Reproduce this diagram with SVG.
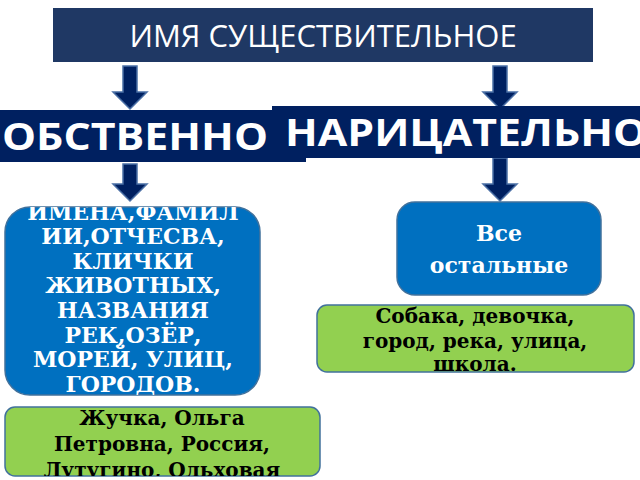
<svg xmlns="http://www.w3.org/2000/svg" width="640" height="480" viewBox="0 0 640 480">
<style>
.hd{fill:#002060}
.ar{fill:#002060;stroke:#4a6fa5;stroke-width:1.5}
.ht{font-family:"Open Sans","DejaVu Sans",sans-serif;font-weight:bold;fill:#fff;font-size:38px}
.bt{font-family:"DejaVu Serif",serif;font-weight:bold;fill:#fff;font-size:22px;text-anchor:middle}
.gt{font-family:"DejaVu Serif",serif;font-weight:bold;fill:#000;font-size:20px;text-anchor:middle}
</style>
<defs>
<clipPath id="c1"><rect x="0" y="110" width="306" height="52"/></clipPath>
<clipPath id="c2"><rect x="272" y="106" width="368" height="52"/></clipPath>
<clipPath id="c3"><rect x="5" y="207" width="255" height="188" rx="25"/></clipPath>
<clipPath id="c4"><rect x="5" y="407" width="315" height="69" rx="10"/></clipPath>
</defs>
<g id="title">
<rect x="53" y="8" width="540" height="54" fill="#1f3864"/>
<text x="323" y="47" text-anchor="middle" font-family="Open Sans,DejaVu Sans,sans-serif" font-size="31" fill="#fff">ИМЯ СУЩЕСТВИТЕЛЬНОЕ</text>
</g>
<g id="connectors">
<path class="ar" d="M123 66h14v26h10l-17 17l-17-17h10z"/>
<path class="ar" d="M493 66h14v26h10l-17 17l-17-17h10z"/>
<path class="ar" d="M123 164h14v20h10l-17 17l-17-17h10z"/>
<path class="ar" d="M493 158h14v26h10l-17 17l-17-17h10z"/>
</g>
<g id="proper">
<rect class="hd" x="0" y="110" width="306" height="52"/>
<text class="ht" x="2" y="150" clip-path="url(#c1)" textLength="266" lengthAdjust="spacingAndGlyphs">ОБСТВЕННО</text>
</g>
<g id="common">
<rect class="hd" x="272" y="106" width="368" height="52"/>
<text class="ht" x="285" y="146" clip-path="url(#c2)" textLength="362" lengthAdjust="spacingAndGlyphs">НАРИЦАТЕЛЬНО</text>
</g>
<g id="propdesc">
<rect x="5" y="207" width="255" height="188" rx="25" fill="#0070c0" stroke="#41719c" stroke-width="1.5"/>
<g clip-path="url(#c3)">
<text class="bt" x="133" y="220">ИМЕНА,ФАМИЛ</text>
<text class="bt" x="133" y="244">ИИ,ОТЧЕСВА,</text>
<text class="bt" x="133" y="269">КЛИЧКИ</text>
<text class="bt" x="133" y="293">ЖИВОТНЫХ,</text>
<text class="bt" x="133" y="318">НАЗВАНИЯ</text>
<text class="bt" x="133" y="343">РЕК,ОЗЁР,</text>
<text class="bt" x="133" y="367">МОРЕЙ, УЛИЦ,</text>
<text class="bt" x="133" y="392">ГОРОДОВ.</text>
</g>
</g>
<g id="commdesc">
<rect x="397" y="202" width="204" height="93" rx="18" fill="#0070c0" stroke="#41719c" stroke-width="1.5"/>
<text class="bt" x="499" y="241" font-size="23">Все</text>
<text class="bt" x="499" y="273" font-size="23">остальные</text>
</g>
<g id="commex">
<rect x="317" y="305" width="317" height="67" rx="10" fill="#92d050" stroke="#41719c" stroke-width="1.5"/>
<text class="gt" x="475" y="323" font-size="18">Собака, девочка,</text>
<text class="gt" x="475" y="348" font-size="18">город, река, улица,</text>
<text class="gt" x="475" y="371" font-size="18">школа.</text>
</g>
<g id="propex">
<rect x="5" y="407" width="315" height="69" rx="10" fill="#92d050" stroke="#41719c" stroke-width="1.5"/>
<g clip-path="url(#c4)">
<text class="gt" x="162" y="425">Жучка, Ольга</text>
<text class="gt" x="162" y="451">Петровна, Россия,</text>
<text class="gt" x="162" y="477">Лутугино, Ольховая</text>
</g>
</g>
</svg>
